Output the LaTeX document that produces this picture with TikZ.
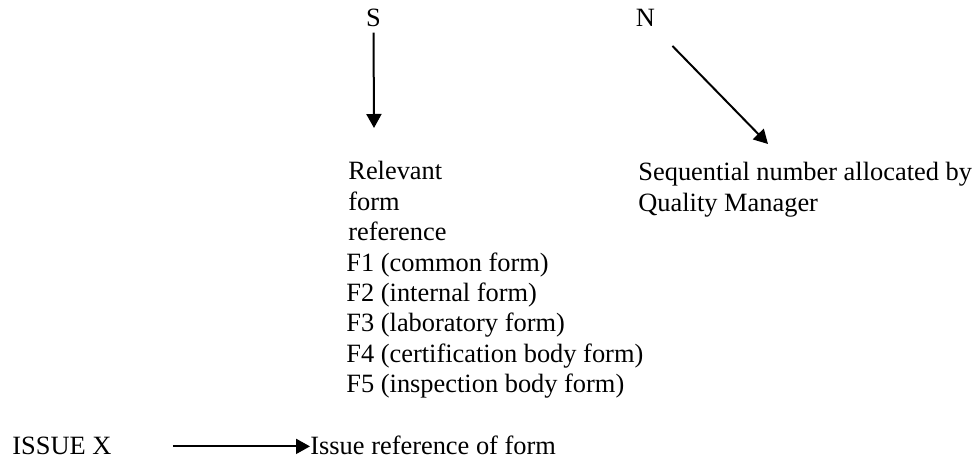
\documentclass[tikz,border=0pt]{standalone}
\usepackage{fontspec}
\setmainfont{Liberation Serif}
\usetikzlibrary{arrows.meta, positioning}
\tikzset{
    txt/.style={inner sep=0pt, anchor=base west, font=\fontsize{13.2pt}{15pt}\selectfont},
    arrow/.style={line width=1pt, -{Triangle[length=7pt, width=7.5pt]}}
}

\begin{document}
\begin{tikzpicture}[x=0.5pt, y=-0.5pt]
            \useasboundingbox (0,0) rectangle (975,459);
            % top letters
            \node[txt, anchor=base] (s) at (373.5,27) {S};
            \node[txt, anchor=base] (n) at (645.5,27) {N};
            \coordinate (s-tip) at (374,128);
            \coordinate (n-tip) at (768,144);
            \draw[arrow, shorten <=2.5pt] (s.south) -- (s-tip);
            \draw[arrow, shorten <=13pt] (n) -- (n-tip);
            % form reference
            \foreach \txt [count=\i from 0] in {Relevant, form, reference}
                \node[txt] (ref\i) at (348,180+30.4*\i) {\txt};
            \foreach \txt [count=\i from 0] in {F1 (common form), F2 (internal form), F3 (laboratory form), F4 (certification body form), F5 (inspection body form)}
                \node[txt] (f\i) at (346,271.2+30.4*\i) {\txt};
            % sequential number
            \node[txt] (seq) at (638,181) {Sequential number allocated by};
            \node[txt] (qm) at (638,212) {Quality Manager};
            % issue
            \node[txt] (issue) at (12,455) {ISSUE X};
            \node[txt] (issueref) at (310,455) {Issue reference of form};
            \draw[arrow, shorten <=30.5pt] (issue.east) -- (issue.east -| issueref.west);
        \end{tikzpicture}
\end{document}
